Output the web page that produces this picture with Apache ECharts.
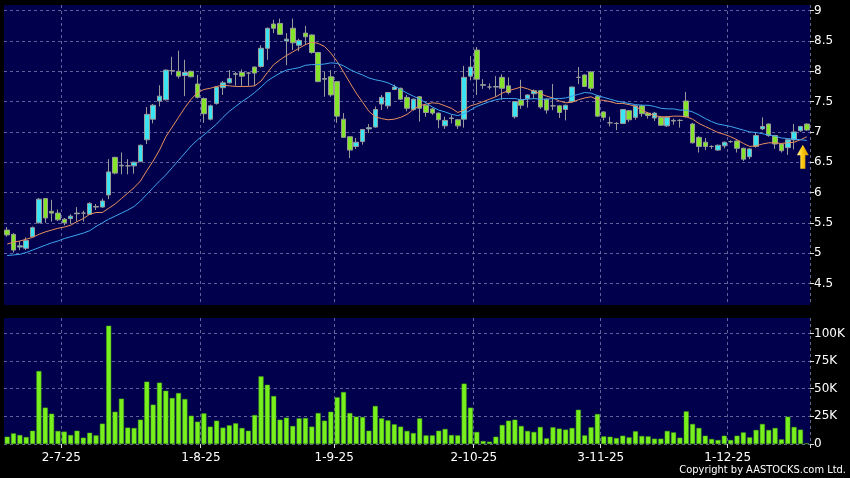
<!DOCTYPE html>
<html><head><meta charset="utf-8">
<script src="https://cdn.jsdelivr.net/npm/echarts@6/dist/echarts.min.js"></script>
<style>html,body{margin:0;padding:0;background:#000;}#c{width:850px;height:478px;}</style>
</head><body><div id="c"></div>
<script>
const dates = [
'18-6-25','19-6-25','20-6-25','23-6-25','24-6-25','25-6-25','26-6-25','27-6-25','30-6-25',
'2-7-25','3-7-25','4-7-25','7-7-25','8-7-25','9-7-25','10-7-25','11-7-25','14-7-25','15-7-25','16-7-25','17-7-25','18-7-25','21-7-25','22-7-25','23-7-25','24-7-25','25-7-25','28-7-25','29-7-25','30-7-25','31-7-25',
'1-8-25','4-8-25','5-8-25','6-8-25','7-8-25','8-8-25','11-8-25','12-8-25','13-8-25','14-8-25','15-8-25','18-8-25','19-8-25','20-8-25','21-8-25','22-8-25','25-8-25','26-8-25','27-8-25','28-8-25','29-8-25',
'1-9-25','2-9-25','3-9-25','4-9-25','5-9-25','8-9-25','9-9-25','10-9-25','11-9-25','12-9-25','15-9-25','16-9-25','17-9-25','18-9-25','19-9-25','22-9-25','23-9-25','24-9-25','25-9-25','26-9-25','29-9-25','30-9-25',
'2-10-25','3-10-25','6-10-25','8-10-25','9-10-25','10-10-25','13-10-25','14-10-25','15-10-25','16-10-25','17-10-25','20-10-25','21-10-25','22-10-25','23-10-25','24-10-25','27-10-25','28-10-25','30-10-25','31-10-25',
'3-11-25','4-11-25','5-11-25','6-11-25','7-11-25','10-11-25','11-11-25','12-11-25','13-11-25','14-11-25','17-11-25','18-11-25','19-11-25','20-11-25','21-11-25','24-11-25','25-11-25','26-11-25','27-11-25','28-11-25',
'1-12-25','2-12-25','3-12-25','4-12-25','5-12-25','8-12-25','9-12-25','10-12-25','11-12-25','12-12-25','15-12-25','16-12-25','17-12-25'
];
const opens = [5.38,5.31,5.10,5.08,5.27,5.50,5.90,5.69,5.66,5.56,5.57,5.65,5.66,5.64,5.76,5.76,5.96,6.58,6.44,6.44,
6.44,6.51,6.87,7.21,7.51,7.53,8.01,8.00,7.93,8.00,7.79,7.55,7.21,7.47,7.73,7.81,7.95,7.98,7.97,8.07,
8.08,8.38,8.78,8.79,8.50,8.71,8.43,8.63,8.60,8.31,7.87,7.91,7.83,7.21,6.92,6.76,6.84,7.05,7.08,7.46,
7.43,7.70,7.72,7.57,7.37,7.58,7.44,7.38,7.31,7.10,7.22,7.20,7.21,7.92,8.35,7.77,7.74,7.74,7.90,7.76,
7.25,7.53,7.55,7.63,7.68,7.54,7.43,7.43,7.37,7.50,7.90,7.94,7.99,7.59,7.33,7.15,7.14,7.14,7.35,7.24,
7.43,7.31,7.23,7.24,7.10,7.18,7.19,7.51,7.13,6.91,6.83,6.76,6.70,6.77,6.84,6.85,6.73,6.59,6.76,7.05,
7.13,6.94,6.80,6.74,6.87,7.02,7.13];
const closes = [5.30,5.05,5.12,5.21,5.42,5.89,5.58,5.66,5.55,5.50,5.61,5.66,5.66,5.82,5.77,5.86,6.34,6.32,6.45,6.44,
6.50,6.78,7.29,7.44,7.59,8.02,8.01,7.92,7.98,7.91,7.57,7.30,7.43,7.74,7.81,7.88,7.96,7.92,7.97,7.97,
8.38,8.71,8.71,8.61,8.53,8.47,8.51,8.57,8.31,7.83,7.88,7.61,7.26,6.91,6.70,6.83,7.04,7.07,7.37,7.57,
7.65,7.74,7.54,7.39,7.54,7.39,7.32,7.31,7.20,7.19,7.23,7.10,7.90,8.07,7.87,7.78,7.74,7.75,7.72,7.65,
7.50,7.44,7.61,7.68,7.41,7.36,7.43,7.32,7.44,7.74,7.90,7.75,7.72,7.26,7.24,7.15,7.14,7.37,7.20,7.43,
7.30,7.27,7.31,7.11,7.24,7.19,7.19,7.25,6.82,6.76,6.76,6.76,6.78,6.83,6.84,6.73,6.55,6.72,6.94,7.09,
6.94,6.80,6.69,6.87,7.00,7.09,7.03];
const lows = [5.27,5.01,5.05,5.05,5.26,5.49,5.50,5.52,5.53,5.46,5.48,5.52,5.52,5.63,5.71,5.75,5.89,6.30,6.30,6.30,
6.31,6.50,6.80,7.14,7.42,7.52,7.94,7.88,7.59,7.90,7.55,7.15,7.19,7.45,7.61,7.80,7.76,7.76,7.76,7.76,
8.06,8.19,8.63,8.60,8.10,8.35,8.33,8.43,8.29,7.82,7.58,7.58,7.15,6.90,6.57,6.72,6.79,6.98,7.07,7.36,
7.38,7.69,7.53,7.34,7.35,7.17,7.25,7.28,7.06,7.05,7.14,7.05,7.07,7.85,7.61,7.71,7.70,7.58,7.53,7.62,
7.22,7.38,7.40,7.55,7.38,7.30,7.36,7.23,7.19,7.48,7.79,7.74,7.68,7.25,7.19,7.09,7.03,7.13,7.16,7.20,
7.25,7.22,7.18,7.10,7.08,7.12,7.07,7.24,6.81,6.66,6.70,6.72,6.69,6.73,6.82,6.66,6.52,6.55,6.74,7.03,
6.92,6.72,6.66,6.62,6.71,7.00,7.02];
const highs = [5.43,5.33,5.20,5.26,5.44,5.91,5.91,5.88,5.72,5.58,5.64,5.76,5.70,5.84,5.81,5.90,6.55,6.59,6.66,6.55,
6.51,6.79,7.41,7.46,7.77,8.03,8.24,8.34,8.19,8.01,7.94,7.57,7.45,7.75,7.84,8.02,7.99,8.03,7.99,8.08,
8.43,8.72,8.85,8.87,8.63,8.87,8.54,8.75,8.61,8.32,7.99,8.02,7.84,7.31,6.93,6.90,7.05,7.13,7.42,7.61,
7.66,7.78,7.73,7.61,7.55,7.59,7.45,7.40,7.32,7.25,7.28,7.21,8.09,8.25,8.40,7.87,7.80,7.92,7.95,7.90,
7.51,7.86,7.62,7.70,7.69,7.55,7.79,7.44,7.45,7.75,8.07,7.95,8.00,7.61,7.34,7.25,7.16,7.38,7.36,7.44,
7.45,7.33,7.33,7.26,7.26,7.22,7.21,7.66,7.15,6.93,6.90,6.78,6.79,6.84,6.86,6.86,6.74,6.73,6.99,7.24,
7.14,6.95,6.81,6.88,7.13,7.10,7.14];
const volumes = [6600,9600,8100,6300,12000,66000,32900,27400,11800,11200,8100,12000,5700,10200,7800,18400,107000,29200,41000,14800,
14500,22000,56400,35600,55500,48200,41600,46100,40700,25600,20200,27700,15700,21100,14800,16900,18700,14500,12000,26200,
61200,53600,43400,22000,23800,16300,23200,23500,15700,28000,21100,29200,42200,47000,28000,24700,24400,12000,34400,23200,
21400,17800,15700,11800,9900,23200,7800,7800,12000,13600,8100,7800,54600,32900,10900,2700,2100,6600,17200,21100,
22000,16300,11800,10900,15400,5100,15100,13900,13000,14500,31000,7800,15100,27100,6900,6600,5400,7500,6000,11500,
7200,6900,4800,4800,11800,10500,5700,29500,18100,14500,7500,4500,3600,7500,3600,7500,10500,6000,12700,18100,
12700,14500,4200,24700,15400,13000,600];
const ma10 = [5.15,5.18,5.20,5.23,5.26,5.31,5.35,5.38,5.41,5.43,5.46,5.52,5.57,5.64,5.67,5.67,5.74,5.81,5.90,5.99,
6.08,6.19,6.36,6.52,6.70,6.92,7.08,7.24,7.40,7.54,7.65,7.70,7.72,7.75,7.77,7.76,7.75,7.75,7.75,7.76,
7.84,7.98,8.11,8.19,8.26,8.32,8.38,8.44,8.48,8.46,8.41,8.30,8.16,7.99,7.81,7.64,7.49,7.34,7.25,7.22,
7.20,7.21,7.24,7.29,7.37,7.43,7.46,7.48,7.47,7.43,7.39,7.32,7.36,7.43,7.46,7.50,7.54,7.58,7.64,7.68,
7.71,7.74,7.71,7.67,7.63,7.59,7.56,7.51,7.48,7.49,7.53,7.56,7.58,7.53,7.52,7.50,7.47,7.47,7.45,7.42,
7.36,7.31,7.27,7.25,7.25,7.26,7.26,7.25,7.21,7.14,7.09,7.04,6.99,6.96,6.92,6.87,6.81,6.76,6.77,6.80,
6.82,6.82,6.81,6.82,6.83,6.87,6.92];
const ma20 = [4.96,4.97,4.98,5.01,5.05,5.09,5.13,5.17,5.20,5.24,5.27,5.30,5.33,5.37,5.44,5.50,5.56,5.61,5.66,5.71,
5.77,5.86,5.97,6.08,6.19,6.29,6.41,6.53,6.65,6.77,6.87,6.95,7.04,7.13,7.24,7.34,7.42,7.50,7.57,7.65,
7.74,7.84,7.91,7.97,8.02,8.04,8.06,8.10,8.11,8.11,8.12,8.14,8.13,8.09,8.03,7.98,7.94,7.89,7.86,7.84,
7.81,7.76,7.70,7.64,7.59,7.54,7.48,7.41,7.36,7.33,7.29,7.27,7.30,7.36,7.42,7.46,7.50,7.53,7.55,7.55,
7.55,7.53,7.54,7.55,7.54,7.54,7.55,7.55,7.56,7.59,7.62,7.65,7.64,7.60,7.57,7.54,7.51,7.49,7.47,7.45,
7.44,7.44,7.42,7.39,7.38,7.38,7.36,7.36,7.33,7.28,7.22,7.17,7.13,7.11,7.09,7.06,7.03,7.00,6.99,6.97,
6.95,6.93,6.90,6.89,6.88,6.87,6.86];
const xTickLabels = ['2-7-25','1-8-25','1-9-25','2-10-25','3-11-25','1-12-25'];
const priceTicks = [4.5,5,5.5,6,6.5,7,7.5,8,8.5,9];
const volumeTicks = [0,25000,50000,75000,100000];
const arrowLevel = 6.59;

const FONT = 'DejaVu Sans';
const GRIDC = 'rgba(140,140,190,0.7)';
const isTick = (idx, val) => xTickLabels.indexOf(val) >= 0;
const candleData = dates.map((d, i) => [opens[i], closes[i], lows[i], highs[i]]);

const chart = echarts.init(document.getElementById('c'), null, {renderer: 'canvas'});
const splitX = {show: true, interval: isTick, lineStyle: {color: GRIDC, type: [3, 3], width: 1}};
const splitY = {show: true, lineStyle: {color: GRIDC, type: [3, 3], width: 1}};
chart.setOption({
  animation: false,
  backgroundColor: '#000',
  grid: [
    {left: 4, right: 40, top: 5, height: 300, show: true, backgroundColor: '#00004c', borderWidth: 0},
    {left: 4, right: 40, top: 318, height: 126, show: true, backgroundColor: '#00004c', borderWidth: 0}
  ],
  xAxis: [
    {type: 'category', gridIndex: 0, data: dates, boundaryGap: true,
     axisLine: {show: false}, axisTick: {show: false}, axisLabel: {show: false}, splitLine: splitX},
    {type: 'category', gridIndex: 1, data: dates, boundaryGap: true,
     axisLine: {show: false},
     axisTick: {show: true, interval: isTick, length: 4, lineStyle: {color: '#dddddd'}},
     axisLabel: {show: true, interval: isTick, color: '#ffffff', fontSize: 12, fontFamily: FONT, margin: 8, padding: [0, 6, 0, 0]},
     splitLine: splitX}
  ],
  yAxis: [
    {type: 'value', gridIndex: 0, position: 'right', min: 4.144, max: 9.094, scale: true,
     axisLine: {show: false},
     axisTick: {show: true, length: 4, customValues: priceTicks, lineStyle: {color: '#dddddd'}},
     axisLabel: {customValues: priceTicks, color: '#ffffff', fontSize: 12, fontFamily: FONT, margin: 4},
     splitLine: splitY},
    {type: 'value', gridIndex: 1, position: 'right', min: 0, max: 114000,
     axisLine: {show: false},
     axisTick: {show: true, length: 4, customValues: volumeTicks, lineStyle: {color: '#dddddd'}},
     axisLabel: {customValues: volumeTicks, color: '#ffffff', fontSize: 12, fontFamily: FONT, margin: 4,
       formatter: v => v === 0 ? '0' : (v / 1000) + 'K'},
     splitLine: splitY}
  ],
  series: [
    {type: 'candlestick', xAxisIndex: 0, yAxisIndex: 0, data: candleData, barWidth: 5,
     itemStyle: {color: '#3ae4f2', color0: '#84e42a', borderColor: '#9a9a9a', borderColor0: '#9a9a9a', borderColorDoji: '#9a9a9a', borderWidth: 1},
     markPoint: {
       symbol: 'path://M6,0 L12,10 L8.5,10 L8.5,23 L3.5,23 L3.5,10 L0,10 Z',
       symbolSize: [12, 24], symbolOffset: [-4, 0], label: {show: false}, silent: true,
       itemStyle: {color: new echarts.graphic.LinearGradient(0, 0, 1, 0, [
         {offset: 0, color: '#fff4a8'}, {offset: 0.45, color: '#ffcc10'}, {offset: 1, color: '#d89200'}])},
       data: [{coord: [dates[dates.length - 1], arrowLevel]}]
     }},
    {type: 'line', xAxisIndex: 0, yAxisIndex: 0, data: ma10, symbol: 'none', silent: true,
     lineStyle: {color: '#e8905e', width: 1}},
    {type: 'line', xAxisIndex: 0, yAxisIndex: 0, data: ma20, symbol: 'none', silent: true,
     lineStyle: {color: '#3ea6ee', width: 1}},
    {type: 'bar', xAxisIndex: 1, yAxisIndex: 1, data: volumes, barWidth: 5,
     itemStyle: {color: '#78f01e', borderColor: '#48a812', borderWidth: 0.5}}
  ],
  graphic: [
    {type: 'text', right: 4, top: 465, style: {text: 'Copyright by AASTOCKS.com Ltd.', fill: '#ffffff', font: '11px "DejaVu Sans Condensed", "Liberation Sans Narrow", "DejaVu Sans"'}}
  ]
});
</script>
</body></html>
